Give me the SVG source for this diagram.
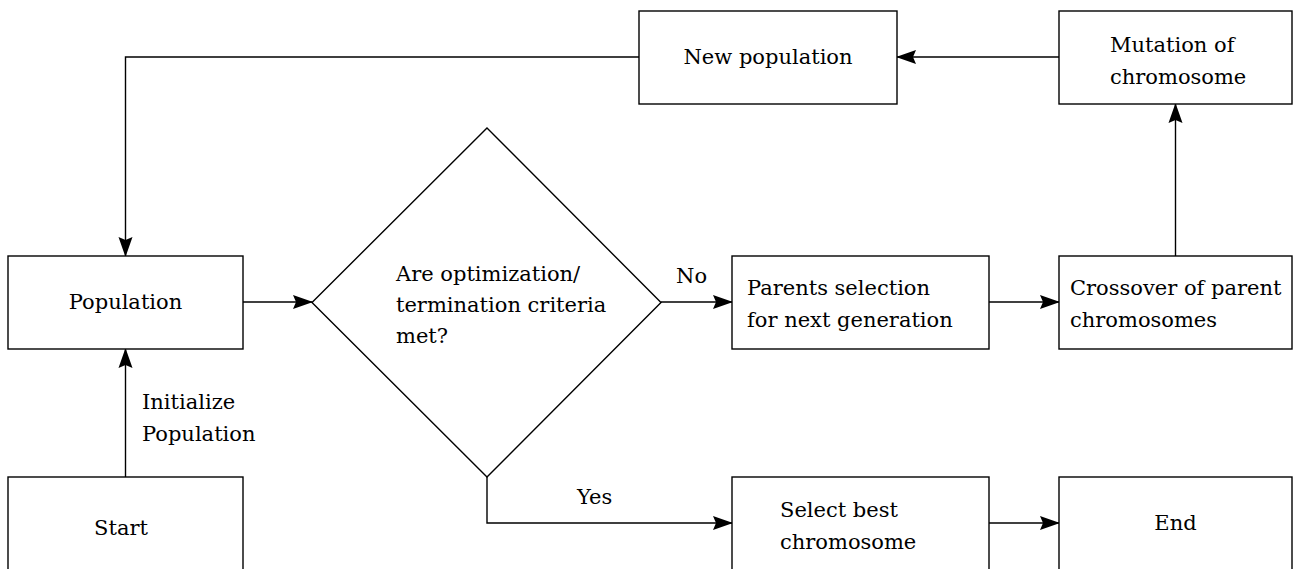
<svg xmlns="http://www.w3.org/2000/svg" width="1295" height="569" viewBox="0 0 1295 569">
  <style>
    .box { fill: #ffffff; stroke: #000000; stroke-width: 1.4; }
    .edge { fill: none; stroke: #000000; stroke-width: 1.4; }
    text { font-family: "DejaVu Serif", "Liberation Serif", serif; font-size: 21px; fill: #000000; }
    .c { text-anchor: middle; }
  </style>
  <defs>
    <marker id="arrow" viewBox="0 0 20 16" refX="19" refY="8" markerWidth="20" markerHeight="16" markerUnits="userSpaceOnUse" orient="auto">
      <path d="M0,1 L20,8 L0,15 L3,8 Z" fill="#000000"/>
    </marker>
  </defs>

  <!-- connectors -->
  <g id="connectors">
    <path class="edge" d="M125.5,477 V349" marker-end="url(#arrow)"/>
    <path class="edge" d="M243,302 H312" marker-end="url(#arrow)"/>
    <path class="edge" d="M661,302 H732" marker-end="url(#arrow)"/>
    <path class="edge" d="M989,302 H1059" marker-end="url(#arrow)"/>
    <path class="edge" d="M1175.5,256 V104" marker-end="url(#arrow)"/>
    <path class="edge" d="M1059,57 H897" marker-end="url(#arrow)"/>
    <path class="edge" d="M639,57 H125.5 V256" marker-end="url(#arrow)"/>
    <path class="edge" d="M487,477 V523 H732" marker-end="url(#arrow)"/>
    <path class="edge" d="M989,523 H1059" marker-end="url(#arrow)"/>
    <text x="142" y="409">Initialize</text>
    <text x="142" y="441">Population</text>
    <text x="676" y="283">No</text>
    <text x="577" y="504">Yes</text>
  </g>

  <g id="start">
    <rect class="box" x="8" y="477" width="235" height="100"/>
    <text class="c" x="121" y="535">Start</text>
  </g>

  <g id="population">
    <rect class="box" x="8" y="256" width="235" height="93"/>
    <text class="c" x="125.5" y="309">Population</text>
  </g>

  <g id="criteria">
    <polygon class="box" points="487,128 661,302.5 487,477 312,302.5"/>
    <text x="396" y="281">Are optimization/</text>
    <text x="396" y="312">termination criteria</text>
    <text x="396" y="343">met?</text>
  </g>

  <g id="parents">
    <rect class="box" x="732" y="256" width="257" height="93"/>
    <text x="747" y="295">Parents selection</text>
    <text x="747" y="327">for next generation</text>
  </g>

  <g id="crossover">
    <rect class="box" x="1059" y="256" width="233" height="93"/>
    <text x="1070" y="295">Crossover of parent</text>
    <text x="1070" y="327">chromosomes</text>
  </g>

  <g id="mutation">
    <rect class="box" x="1059" y="11" width="233" height="93"/>
    <text x="1110" y="52">Mutation of</text>
    <text x="1110" y="84">chromosome</text>
  </g>

  <g id="new-population">
    <rect class="box" x="639" y="11" width="258" height="93"/>
    <text class="c" x="768" y="64">New population</text>
  </g>

  <g id="select-best">
    <rect class="box" x="732" y="477" width="257" height="100"/>
    <text x="780" y="517">Select best</text>
    <text x="780" y="549">chromosome</text>
  </g>

  <g id="end">
    <rect class="box" x="1059" y="477" width="233" height="100"/>
    <text class="c" x="1175.5" y="530">End</text>
  </g>
</svg>
